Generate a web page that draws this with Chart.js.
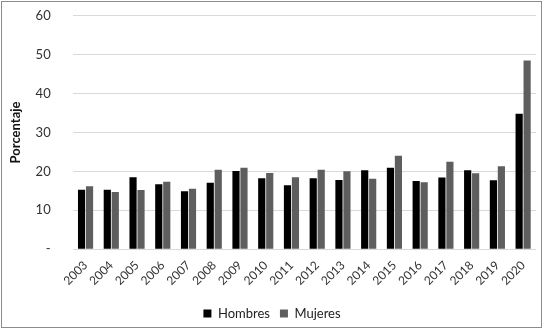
<!DOCTYPE html>
<html>
<head>
<meta charset="utf-8">
<script src="https://cdn.jsdelivr.net/npm/chart.js@4/dist/chart.umd.min.js"></script>
<style>
  html, body { margin: 0; padding: 0; background: #fff; }
  #wrap { width: 544px; height: 331px; position: relative; }
</style>
</head>
<body>
<div id="wrap"><canvas id="c" width="544" height="331"></canvas></div>
<script>
const years = ['2003','2004','2005','2006','2007','2008','2009','2010','2011','2012','2013','2014','2015','2016','2017','2018','2019','2020'];
const hombres = [15.3, 15.3, 18.5, 16.7, 14.9, 17.1, 20.1, 18.2, 16.4, 18.2, 17.8, 20.3, 20.9, 17.5, 18.4, 20.3, 17.7, 34.8];
const mujeres = [16.2, 14.7, 15.2, 17.3, 15.5, 20.4, 20.9, 19.6, 18.5, 20.4, 20.0, 18.1, 24.0, 17.2, 22.5, 19.5, 21.3, 48.5];
const yTicks = [0, 10, 20, 30, 40, 50, 60];

const FONT = "Lato, 'Open Sans', sans-serif";

// Thin frame around the whole chart area
const framePlugin = {
  id: 'frame',
  afterDraw(chart) {
    const ctx = chart.ctx;
    ctx.save();
    ctx.strokeStyle = '#8c8c8c';
    ctx.lineWidth = 1;
    ctx.strokeRect(1.5, 1.5, 540, 326);
    ctx.restore();
  }
};

new Chart(document.getElementById('c'), {
  type: 'bar',
  data: {
    labels: years,
    datasets: [
      { label: 'Hombres', data: hombres, backgroundColor: '#000000', borderWidth: 0,
        categoryPercentage: 0.62, barPercentage: 0.9 },
      { label: 'Mujeres', data: mujeres, backgroundColor: '#5e5e5e', borderWidth: 0,
        categoryPercentage: 0.62, barPercentage: 0.9 }
    ]
  },
  options: {
    responsive: false,
    animation: false,
    layout: { padding: { left: 8, right: 8, top: 0, bottom: 1 } },
    plugins: {
      legend: {
        position: 'bottom',
        labels: {
          boxWidth: 8, boxHeight: 8, padding: 10,
          color: '#222', font: { family: FONT, size: 13 }
        }
      },
      tooltip: { enabled: false }
    },
    scales: {
      x: {
        grid: { display: false, drawTicks: false },
        border: { display: false },
        ticks: {
          color: '#333', font: { family: FONT, size: 12 },
          autoSkip: false, minRotation: 45, maxRotation: 45, padding: 9
        }
      },
      y: {
        min: 0, max: 60,
        afterBuildTicks(axis) { axis.ticks = yTicks.map(v => ({ value: v })); },
        grid: { color: '#d9d9d9', lineWidth: 1, drawTicks: true, tickLength: 14, tickColor: 'rgba(0,0,0,0)' },
        border: { display: false },
        ticks: {
          color: '#333', font: { family: FONT, size: 13 }, padding: 8,
          callback: v => v === 0 ? '-' : String(v)
        },
        title: {
          display: true, text: 'Porcentaje', color: '#111',
          font: { family: FONT, size: 13, weight: 'bold' }, padding: { top: 0, bottom: 4 }
        }
      }
    }
  },
  plugins: [framePlugin]
});
</script>
</body>
</html>
